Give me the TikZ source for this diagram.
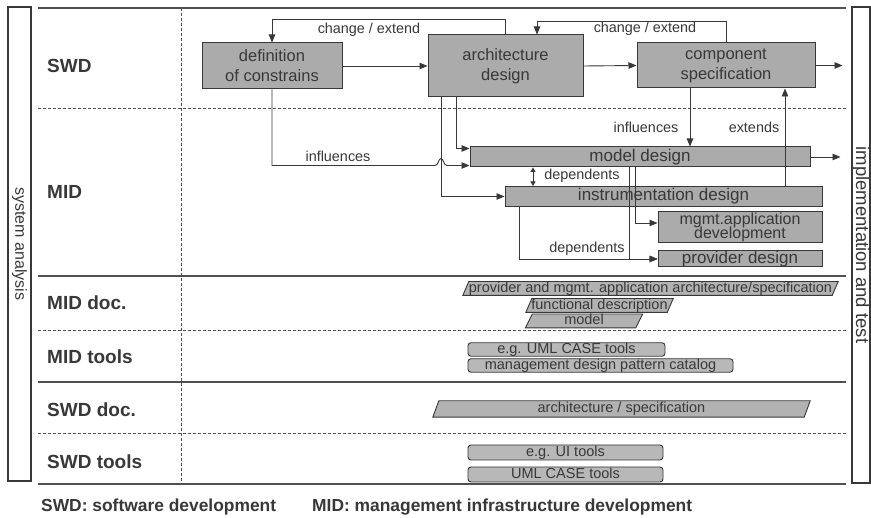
\documentclass[tikz,border=0pt]{standalone}
\usepackage{fontspec}
\setmainfont{Liberation Sans}
\usetikzlibrary{arrows.meta,backgrounds}
\definecolor{ink}{HTML}{383838}
\definecolor{boxfill}{HTML}{ABABAB}
\definecolor{docfill}{HTML}{B2B2B2}
\definecolor{toolfill}{HTML}{B8B8B8}
\definecolor{rule}{HTML}{505050}
\begin{document}
\begin{tikzpicture}[x=1pt,y=-1pt,
  every node/.style={text=ink},
  rowlabel/.style={anchor=west,inner sep=0,font=\fontsize{19}{22}\selectfont\bfseries},
  keytext/.style={anchor=base west,inner sep=0,font=\fontsize{17.4}{20}\selectfont\bfseries},
  sidebar/.style={draw=ink,line width=1.4pt,rotate=-90,inner sep=0},
  solidrule/.style={draw=rule,line width=1.1pt},
  dashrule/.style={draw=rule,line width=0.9pt,dash pattern=on 3pt off 2pt},
  procbox/.style={draw=ink,fill=boxfill,line width=1pt,inner sep=0,align=center,
    font=\fontsize{16.5}{20}\selectfont},
  midbase/.style={draw=ink,fill=boxfill,line width=1pt,inner sep=0,align=center},
  midbox/.style={midbase,text height=12pt,text depth=3.5pt,font=\fontsize{17}{13}\selectfont},
  doctext/.style={inner sep=0,text height=10.5pt,text depth=3pt,
    font=\fontsize{14.5}{15}\selectfont},
  docframe/.style={draw=ink,fill=docfill,line width=0.9pt},
  toolbox/.style={draw=ink,fill=toolfill,line width=0.9pt,rounded corners=3pt,inner sep=0,
    text height=10.5pt,text depth=3pt,font=\fontsize{14.5}{15}\selectfont},
  link/.style={draw=ink,line width=0.9pt},
  flow/.style={link,-{Triangle[length=8pt,width=6.5pt]}},
  twoway/.style={link,{Triangle[length=4.5pt,width=5pt]}-{Triangle[length=4.5pt,width=5pt]}},
  edgelabel/.style={inner sep=0,font=\fontsize{14.4}{16}\selectfont},
]
\begin{scope}[on background layer]
  \fill[white] (0,0) rectangle (871,518);
\end{scope}
\useasboundingbox (0,0) rectangle (871,518);

% side bars
\node[sidebar,minimum width=474,minimum height=23,font=\fontsize{16}{18}\selectfont]
  (sysan) at (19.5,244) {system analysis};
\node[sidebar,minimum width=476,minimum height=18,font=\fontsize{18.5}{20}\selectfont]
  (impl) at (861,245) {implementation and test};

% grid of rows
\draw[solidrule] (38,8) -- (846,8);
\draw[dashrule] (181,8) -- (181,484);
\draw[dashrule] (38,108) -- (846,108);
\draw[solidrule] (38,276) -- (846,276);
\draw[dashrule] (38,330) -- (846,330);
\draw[solidrule] (38,382) -- (846,382);
\draw[dashrule] (38,433) -- (846,433);
\draw[solidrule] (38,484) -- (846,484);

% row labels
\node[rowlabel] (rswd) at (47,65.5) {SWD};
\node[rowlabel] (rmid) at (47,192) {MID};
\node[rowlabel] (rmdoc) at (47,303) {MID doc.};
\node[rowlabel] (rmtools) at (47,356.5) {MID tools};
\node[rowlabel] (rsdoc) at (47,410) {SWD doc.};
\node[rowlabel] (rstools) at (47,461.5) {SWD tools};

% software development steps
\node[procbox,minimum width=140,minimum height=46] (def) at (272,66) {definition\\of constrains};
\node[procbox,minimum width=155,minimum height=62] (arch) at (505.5,66) {architecture\\design};
\node[procbox,minimum width=178,minimum height=45] (comp) at (726,65.5) {component\\specification};

% infrastructure development steps
\node[midbox,minimum width=340,minimum height=20] (model) at (640,157) {model design};
\node[midbox,minimum width=317,minimum height=20] (instr) at (663.5,196.5) {instrumentation design};
\node[midbase,minimum width=164,minimum height=31,font=\fontsize{16}{20}\selectfont]
  (mgmt) at (740,227.5) {mgmt.application\\[-5.5pt]development};
\node[midbox,minimum width=164,minimum height=16] (prov) at (740,259) {provider design};

% documents
\node[doctext,minimum width=369,minimum height=13] (d1) at (650.5,288.5)
  {provider and mgmt. application architecture/specification};
\node[doctext,minimum width=141,minimum height=12] (d2) at (599.5,305.5) {functional description};
\node[doctext,minimum width=110,minimum height=12] (d3) at (584,321) {model};
\node[doctext,minimum width=371,minimum height=16] (d4) at (621.5,409) {architecture / specification};
\begin{scope}[on background layer]
  \foreach \n/\s in {d1/3,d2/3,d3/3.5,d4/3}{
    \draw[docframe] ([xshift=-\s]\n.south west) -- ([xshift=\s]\n.north west)
      -- ([xshift=\s]\n.north east) -- ([xshift=-\s]\n.south east) -- cycle;
  }
\end{scope}

% tools
\node[toolbox,minimum width=197,minimum height=13] (t1) at (566.5,349.5) {e.g. UML CASE tools};
\node[toolbox,minimum width=265,minimum height=13] (t2) at (600.5,365.5) {management design pattern catalog};
\node[toolbox,minimum width=195,minimum height=15] (t3) at (565.5,452.5) {e.g. UI tools};
\node[toolbox,minimum width=195,minimum height=15] (t4) at (565.5,474.5) {UML CASE tools};

% helper points on the boxes
\coordinate (archL) at ([xshift=-64.5]arch.south);
\coordinate (archM) at ([xshift=-49.5]arch.south);
\coordinate (ce2) at ([xshift=31.5]arch.north);
\coordinate (compL) at ([xshift=-36]comp.south);
\coordinate (swdout) at ([xshift=27]comp.east);
\coordinate (modelHi) at ([yshift=8.5]model.west);
\coordinate (modelLo) at ([yshift=-8.5]model.west);
\coordinate (midout) at ([xshift=30]model.east);
\coordinate (depA) at ([xshift=-107]model.south);
\coordinate (modelA) at ([xshift=-5]model.south);
\coordinate (modelB) at ([xshift=-11]model.south);
\coordinate (instrR) at ([xshift=121.5]instr.north);
\coordinate (instrL) at ([xshift=-144.5]instr.south);
\coordinate (mgmtIn) at ([yshift=4.5]mgmt.west);
\coordinate (hop) at (archL |- modelLo);

% SWD flow
\draw[flow] (def.east) -- (arch.west);
\draw[flow] (arch.east) -- (comp.west);
\draw[flow] (comp.east) -- (swdout);
\draw[flow] (arch.north) -- ++(0,-15) -| (def.north);
\draw[flow] (comp.north) -- ++(0,-21) -| (ce2);

% SWD to MID
\draw[flow] (archL) |- (instr.west);
\draw[flow] (archM) |- (modelHi);
\draw[flow] (def.south) |- ([xshift=-6]hop)
  .. controls ([xshift=-2.5,yshift=0]hop) and ([xshift=-2.5,yshift=7]hop) .. ([yshift=7]hop)
  .. controls ([xshift=2.5,yshift=7]hop) and ([xshift=2.5,yshift=0]hop) .. ([xshift=6]hop)
  -- (modelLo);
\draw[flow] (compL) -- (compL |- model.north);
\draw[flow] (instrR) -- (instrR |- comp.south);

% MID flow
\draw[flow] (model.east) -- (midout);
\draw[twoway] (depA) -- (depA |- instr.north);
\draw[flow] (modelA) |- (mgmtIn);
\draw[flow] (modelB) |- (prov.west);
\draw[flow] (instrL) |- (prov.west);

% connector labels
\node[edgelabel] (lce1) at (369,30) {change / extend};
\node[edgelabel] (lce2) at (645,29) {change / extend};
\node[edgelabel] (linf1) at (338,156) {influences};
\node[edgelabel] (linf2) at (646,127) {influences};
\node[edgelabel] (lext) at (754,127) {extends};
\node[edgelabel] (ldep1) at (582,176) {dependents};
\node[edgelabel] (ldep2) at (587,249) {dependents};

% legend
\node[keytext] (k1) at (41,512) {SWD: software development};
\node[keytext] (k2) at (312,512) {MID: management infrastructure development};
\end{tikzpicture}
\end{document}
